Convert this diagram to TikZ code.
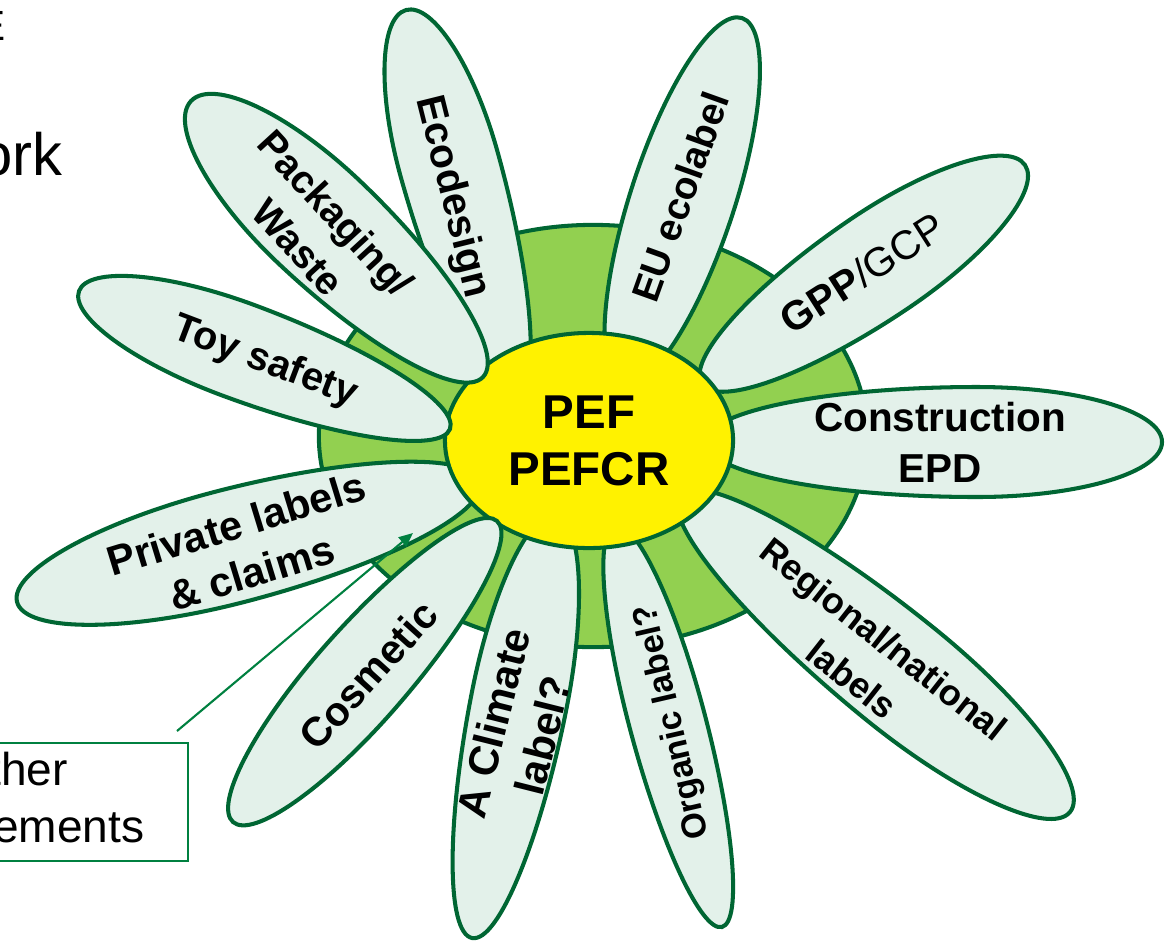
\documentclass[tikz,border=0pt]{standalone}
\usepackage{fontspec}
\setmainfont{Liberation Sans}
\usetikzlibrary{shapes.geometric,arrows.meta}
\definecolor{dgreen}{RGB}{0,102,51}
\definecolor{petalfill}{RGB}{227,241,234}
\definecolor{diskgreen}{RGB}{146,208,80}
\definecolor{agreen}{RGB}{0,128,64}
% #1,#2 tip ; #3,#4 base ; #5 half width ; #6 distance of widest point from tip
\newcommand{\petal}[6]{%
  \pgfmathsetmacro{\petAng}{atan2((#4)-(#2),(#1)-(#3))}%
  \pgfmathsetmacro{\petLen}{100*veclen(((#1)-(#3))/100,((#4)-(#2))/100)}%
  \pgfmathsetmacro{\petMid}{\petLen-(#6)}%
  \pgfmathsetmacro{\petCa}{\petMid*0.448}%
  \pgfmathsetmacro{\petCb}{\petMid+0.552*(#6)}%
  \pgfmathsetmacro{\petW}{#5}%
  \pgfmathsetmacro{\petWk}{0.552*(#5)}%
  \begin{scope}[shift={(#3,#4)},rotate=\petAng]
    \path[petalshape] (0,0) .. controls (0,\petWk) and (\petCa,\petW) .. (\petMid,\petW)
      .. controls (\petCb,\petW) and (\petLen,\petWk) .. (\petLen,0)
      .. controls (\petLen,-\petWk) and (\petCb,-\petW) .. (\petMid,-\petW)
      .. controls (\petCa,-\petW) and (0,-\petWk) .. cycle;
  \end{scope}}
\begin{document}
\begin{tikzpicture}[x=0.01cm,y=-0.01cm,
  petalshape/.style={draw=dgreen,fill=petalfill,line width=1.15pt},
  lbl/.style={inner sep=0pt,align=center,text=black},
  bf/.style={font=\bfseries\fontsize{#1}{14.5}\selectfont}]
\useasboundingbox (0,0) rectangle (1167,942);
% green disk
\path[draw=dgreen,fill=diskgreen,line width=1.15pt] (593,436) ellipse [x radius=2.74cm,y radius=2.11cm];
% petals under the centre
\petal{406}{10}{515}{400}{50}{160}
\petal{742}{18}{622}{385}{52}{190}
\petal{1025}{165}{702}{384}{53}{175}
\petal{1162}{442}{705}{442}{55}{185}
\petal{1070}{812}{680}{495}{57}{218}
\petal{722}{927}{615}{525}{38}{214}
\petal{472}{938}{556}{515}{48}{243}
\petal{17}{602}{480}{482}{57}{220}
% centre
\node[ellipse,draw=dgreen,fill=yellow,line width=1.15pt,minimum width=2.88cm,minimum height=2.15cm,
  inner sep=0pt,align=center,font=\bfseries\fontsize{13.5}{16.2}\selectfont] (pef) at (589,440.5) {PEF\\PEFCR};
% petals over the centre
\petal{79}{291}{450}{429}{48}{170}
\petal{191}{101}{483}{377}{58}{175}
\petal{233}{822}{497}{521}{47}{190}
% labels
\node[lbl,bf=11.5] (constr) at (940,442) {Construction\\EPD};
\node[lbl,bf=11.6,rotate=32.5] (gpp) at (862,273) {GPP\mdseries/GCP};
\node[lbl,bf=11,rotate=70.3] (eu) at (680,197) {EU ecolabel};
\node[lbl,bf=11.6,rotate=-76] (eco) at (452,197) {Ecodesign};
\node[lbl,bf=11.2,rotate=-47.5] (pack) at (317,230) {Packaging/\\Waste};
\node[lbl,bf=11.3,rotate=-20.8] (toy) at (265,362) {Toy safety};
\node[lbl,bf=11.8,rotate=17] (priv) at (244,548) {Private labels\\\& claims};
\node[lbl,bf=11.6,rotate=47.9] (cosm) at (368,675) {Cosmetic};
\node[lbl,bf=11.9,rotate=75.9] (clim) at (518,729) {A Climate\\label?};
\node[lbl,bf=9.8,rotate=103] (org) at (673,722) {Organic label?};
\node[lbl,bf=10.3,rotate=-38.2] (reg) at (868,659) {Regional/national\\labels};
% cropped slide text
\node[anchor=base east,inner sep=0pt,font=\fontsize{12}{14}\selectfont] (ttop) at (6,40) {E};
\node[anchor=base east,inner sep=0pt,font=\fontsize{17}{20}\selectfont] (tork) at (63,175) {ork};
% other requirements box and pointer
\node[draw=agreen,line width=0.6pt,minimum width=3.56cm,minimum height=1.18cm,inner sep=0pt,
  align=center,font=\fontsize{13.1}{16}\selectfont] (other) at (10,802) {Other\\requirements};
\coordinate (astart) at (177,731);
\coordinate (aend) at (413,533);
\draw[agreen,line width=0.6pt,-{Triangle[length=4pt,width=3.4pt]}] (astart) -- (aend);
\end{tikzpicture}
\end{document}
